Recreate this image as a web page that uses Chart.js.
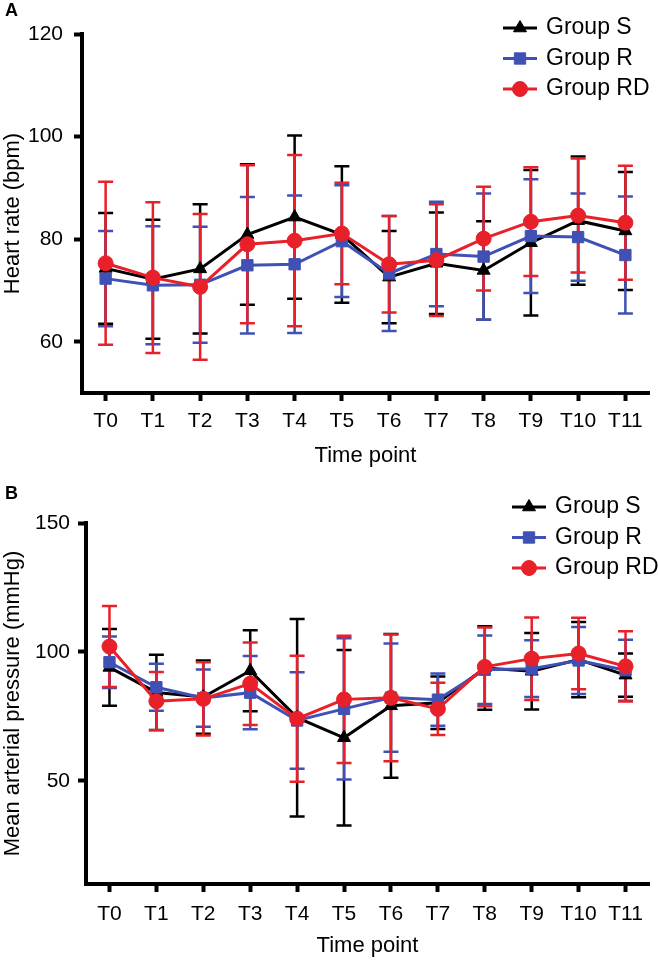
<!DOCTYPE html>
<html>
<head>
<meta charset="utf-8">
<title>Heart rate and MAP by group</title>
<script src="https://cdn.jsdelivr.net/npm/chart.js@4.4.1/dist/chart.umd.min.js"></script>
<style>
  body { margin: 0; background: #fff; width: 658px; height: 960px; overflow: hidden; }
  canvas { display: block; }
</style>
</head>
<body>
<canvas id="chartA" width="658" height="475"></canvas>
<canvas id="chartB" width="658" height="485"></canvas>
<script>
// ---- data (mean and SD) ----
const timePoints = ["T0", "T1", "T2", "T3", "T4", "T5", "T6", "T7", "T8", "T9", "T10", "T11"];
const seriesNames = ["Group S", "Group R", "Group RD"];

// A: heart rate (bpm)
const hrTicks = [60, 80, 100, 120];
const hrMeanS  = [74.3, 72.2, 74.2, 80.9, 84.3, 80.9, 72.6, 75.3, 73.9, 79.3, 83.6, 81.6];
const hrSdS    = [10.8, 11.6, 12.6, 13.7, 15.9, 13.3, 9.0, 9.9, 9.6, 14.2, 12.5, 11.5];
const hrMeanR  = [72.3, 71.0, 71.1, 74.9, 75.1, 79.6, 73.3, 77.1, 76.6, 80.6, 80.4, 76.9];
const hrSdR    = [9.3, 11.5, 11.3, 13.3, 13.4, 10.9, 11.2, 10.2, 12.3, 11.1, 8.5, 11.4];
const hrMeanRD = [75.3, 72.5, 70.7, 79.0, 79.7, 81.1, 75.1, 75.9, 80.1, 83.4, 84.6, 83.2];
const hrSdRD   = [15.9, 14.7, 14.2, 15.4, 16.7, 9.9, 9.4, 10.9, 10.1, 10.6, 11.1, 11.1];

// B: mean arterial pressure (mmHg)
const mapTicks = [50, 100, 150];
const mapMeanS  = [94.0, 84.3, 82.5, 92.7, 74.5, 66.7, 79.1, 80.3, 93.8, 92.5, 97.0, 91.0];
const mapSdS    = [14.9, 14.6, 14.2, 15.7, 38.3, 34.0, 27.9, 10.2, 16.2, 14.8, 14.6, 8.4];
const mapMeanR  = [96.0, 86.3, 82.1, 84.2, 73.4, 77.9, 82.3, 81.5, 93.1, 93.5, 96.7, 92.9];
const mapSdR    = [10.0, 9.1, 11.1, 14.2, 18.7, 27.4, 21.0, 10.1, 13.3, 11.0, 13.0, 11.8];
const mapMeanRD = [102.1, 80.9, 81.8, 87.7, 74.1, 81.6, 82.2, 77.9, 94.2, 97.4, 99.4, 94.4];
const mapSdRD   = [15.7, 11.3, 14.2, 16.0, 24.4, 24.7, 24.6, 10.1, 15.3, 16.0, 13.9, 13.6];

const colS = "#000000";
const colR = "#3f51b5";
const colRD = "#e8202a";

Chart.defaults.font.family = "'Liberation Sans', Arial, sans-serif";
Chart.defaults.color = "#000";

// error bars: mean +/- sd, drawn through the y scale
const errorBars = {
  id: "errorBars",
  beforeDatasetsDraw(chart) {
    const ctx = chart.ctx;
    const yScale = chart.scales.y;
    chart.data.datasets.forEach((ds, i) => {
      const meta = chart.getDatasetMeta(i);
      ctx.save();
      ctx.strokeStyle = ds.borderColor;
      ctx.lineWidth = 2.5;
      meta.data.forEach((pt, j) => {
        const m = ds.data[j], s = ds.sd[j];
        const top = yScale.getPixelForValue(m + s);
        const bot = yScale.getPixelForValue(m - s);
        const x = pt.x, w = 7.5;
        ctx.beginPath();
        ctx.moveTo(x, top); ctx.lineTo(x, bot);
        ctx.moveTo(x - w, top); ctx.lineTo(x + w, top);
        ctx.moveTo(x - w, bot); ctx.lineTo(x + w, bot);
        ctx.stroke();
      });
      ctx.restore();
    });
  }
};

// legend box top right + panel letter
const sideLegend = {
  id: "sideLegend",
  afterDraw(chart, args, opts) {
    const ctx = chart.ctx;
    ctx.save();
    chart.data.datasets.forEach((ds, i) => {
      const y = opts.y + i * opts.gap;
      ctx.strokeStyle = ds.borderColor;
      ctx.fillStyle = ds.borderColor;
      ctx.lineWidth = 3;
      ctx.beginPath();
      ctx.moveTo(opts.x, y);
      ctx.lineTo(opts.x + 34, y);
      ctx.stroke();
      ctx.lineWidth = 1;
      Chart.helpers.drawPoint(ctx, { pointStyle: ds.pointStyle, radius: ds.pointRadius, rotation: 0, borderWidth: 1 }, opts.x + 17, y);
      ctx.fillStyle = "#000";
      ctx.font = "23px 'Liberation Sans', Arial, sans-serif";
      ctx.textBaseline = "middle";
      ctx.textAlign = "left";
      ctx.fillText(ds.label, opts.x + 43, y);
    });
    ctx.font = "bold 18px 'Liberation Sans', Arial, sans-serif";
    ctx.textBaseline = "middle";
    ctx.fillText(opts.letter, 5, opts.letterY);
    ctx.restore();
  }
};

function makeDatasets(means, sds) {
  const styles = [
    { color: colS, shape: "triangle", r: 7.5, order: 2 },
    { color: colR, shape: "rect", r: 8, order: 1 },
    { color: colRD, shape: "circle", r: 7.5, order: 0 }
  ];
  return styles.map((st, i) => ({
    label: seriesNames[i],
    data: means[i],
    sd: sds[i],
    borderColor: st.color,
    backgroundColor: st.color,
    pointBackgroundColor: st.color,
    pointBorderColor: st.color,
    borderWidth: 3,
    pointStyle: st.shape,
    pointRadius: st.r,
    pointBorderWidth: 1,
    tension: 0,
    order: st.order
  }));
}

function makeChart(id, g) {
  return new Chart(document.getElementById(id), {
    type: "line",
    data: { labels: timePoints, datasets: makeDatasets(g.means, g.sds) },
    plugins: [errorBars, sideLegend],
    options: {
      responsive: false,
      animation: false,
      layout: { padding: { top: g.padTop, right: g.padRight, left: 0, bottom: 0 } },
      plugins: {
        legend: { display: false },
        tooltip: { enabled: false },
        sideLegend: g.legend
      },
      scales: {
        x: {
          offset: true,
          grid: { display: true, drawOnChartArea: false, drawTicks: true, offset: false, tickLength: 8, tickWidth: 4, tickColor: "#000" },
          border: { display: true, width: 4, color: "#000" },
          ticks: { color: "#000", font: { size: 21 }, padding: g.xTickPad, maxRotation: 0, autoSkip: false },
          title: { display: true, text: "Time point", color: "#000", font: { size: 22 }, padding: { top: 0, bottom: g.xTitlePad } },
          afterFit: (s) => { s.height = g.xHeight; }
        },
        y: {
          min: g.min,
          max: g.max,
          afterBuildTicks: (s) => { s.ticks = g.ticks.map((v) => ({ value: v })); },
          grid: { display: true, drawOnChartArea: false, drawTicks: true, tickLength: 8, tickWidth: 4, tickColor: "#000" },
          border: { display: true, width: 4, color: "#000" },
          ticks: { color: "#000", font: { size: 21 }, padding: g.yTickPad },
          title: { display: true, text: g.yTitle, color: "#000", font: { size: 22 }, padding: 0 },
          afterFit: (s) => { s.width = g.yWidth; }
        }
      }
    }
  });
}

makeChart("chartA", {
  means: [hrMeanS, hrMeanR, hrMeanRD],
  sds: [hrSdS, hrSdR, hrSdRD],
  min: 50, max: 120, ticks: hrTicks,
  yTitle: "Heart rate (bpm)",
  padTop: 34, padRight: 9, yWidth: 82, xHeight: 82,
  xTickPad: 8, xTitlePad: 6, yTickPad: 11,
  legend: { x: 503, y: 28, gap: 30.5, letter: "A", letterY: 11 }
});

makeChart("chartB", {
  means: [mapMeanS, mapMeanR, mapMeanRD],
  sds: [mapSdS, mapSdR, mapSdRD],
  min: 10, max: 150, ticks: mapTicks,
  yTitle: "Mean arterial pressure (mmHg)",
  padTop: 48, padRight: 4, yWidth: 86, xHeight: 76,
  xTickPad: 10, xTitlePad: 1, yTickPad: 8,
  legend: { x: 512, y: 32, gap: 30.5, letter: "B", letterY: 19 }
});
</script>
</body>
</html>
